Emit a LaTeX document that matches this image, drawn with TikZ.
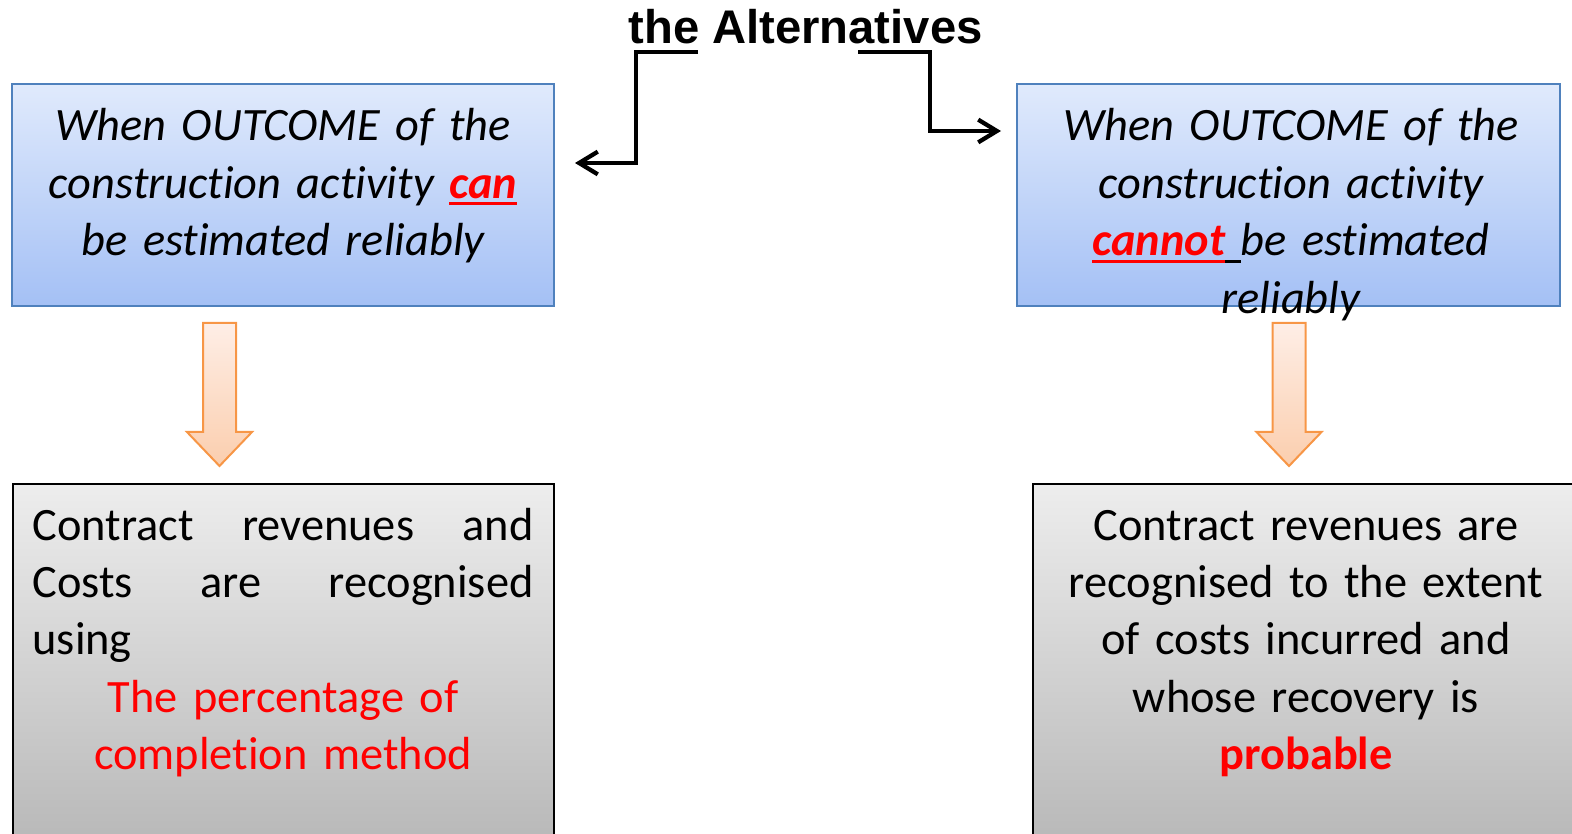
\documentclass[tikz,border=0pt]{standalone}
\usepackage{fontspec}
\setmainfont{Carlito}[Ligatures=NoCommon]
\newfontfamily\arialfont{Liberation Sans}
\usetikzlibrary{arrows.meta}

\definecolor{boxblue}{RGB}{79,129,189}
\definecolor{bluetop}{RGB}{224,234,252}
\definecolor{bluebot}{RGB}{164,192,245}
\definecolor{graytop}{RGB}{237,237,237}
\definecolor{graybot}{RGB}{184,184,184}
\definecolor{arrorange}{RGB}{247,150,70}
\definecolor{orangetop}{RGB}{254,238,230}
\definecolor{orangebot}{RGB}{251,206,174}

\newcommand\thickul[1]{\leavevmode\setbox0\hbox{#1}\rlap{\rule[-0.15em]{\wd0}{0.065em}}\box0}

\tikzset{every picture/.style={line width=0.75pt}}
\tikzset{
  bluebox/.style={draw=boxblue, line width=1.5pt, top color=bluetop, bottom color=bluebot, inner sep=0pt, minimum width=406.5pt, minimum height=166.5pt},
  graybox/.style={draw=black, line width=1.5pt, top color=graytop, bottom color=graybot, inner sep=0pt, minimum width=405.75pt, minimum height=270pt},
  boxtext/.style={anchor=base, inner sep=0pt, align=center, font=\fontsize{34.8}{43.1}\selectfont},
  downarrow/.style={draw=arrorange, line width=1.5pt, top color=orangetop, bottom color=orangebot},
  elbow/.style={line width=3.2pt, -{Straight Barb[length=14pt,width=17pt]}},
}

\begin{document}
\begin{tikzpicture}[x=0.75pt,y=0.75pt,yscale=-1,xscale=1]
    \useasboundingbox (0,0) rectangle (1572,834);
    \clip (0,0) rectangle (1572,834);

    %Shape: Rectangle
    \node[bluebox] (canbox) at (283,195) {};
    %Shape: Rectangle
    \node[bluebox, minimum width=407.25pt] (cannotbox) at (1288.5,195) {};
    %Shape: Rectangle
    \node[graybox] (pocbox) at (283,664) {};
    %Shape: Rectangle
    \node[graybox] (recbox) at (1303.5,664) {};

    % Text Node
    \node[anchor=base, inner sep=0pt, font=\arialfont\bfseries\fontsize{35.4}{42}\selectfont] (title) at (805.5,44) {the Alternatives};

    %Straight Lines
    \coordinate (altL) at (698,52);
    \coordinate (tipL) at (575,163);
    \draw[elbow] (altL) -- (636,52) |- (tipL);
    %Straight Lines
    \coordinate (altR) at (858,52);
    \coordinate (tipR) at (1001,131);
    \draw[elbow] (altR) -- (930,52) |- (tipR);

    %Shape: Down Arrow
    \coordinate (arrL) at (219.5,323);
    \draw[downarrow] (arrL) -- ++(16.5,0) -- ++(0,109) -- ++(16,0) -- ++(-32.5,34) -- ++(-32.5,-34) -- ++(16,0) -- ++(0,-109) -- cycle;
    %Shape: Down Arrow
    \coordinate (arrR) at (1289,323);
    \draw[downarrow] (arrR) -- ++(16.5,0) -- ++(0,109) -- ++(16,0) -- ++(-32.5,34) -- ++(-32.5,-34) -- ++(16,0) -- ++(0,-109) -- cycle;

    % Text Node
    \node[boxtext, text width=400pt] (cantxt) at (283,141) {\itshape When OUTCOME of the\\construction activity {\color{red}\thickul{\textbf{can}}}\\be estimated reliably};
    % Text Node
    \node[boxtext, text width=400pt] (cannottxt) at (1291,141) {\itshape When OUTCOME of the\\construction activity\\{\color{red}\thickul{\textbf{cannot}}}\thickul{\ }be estimated\\reliably};
    % Text Node
    \node[boxtext, text width=375.75pt] (poctxt) at (283,540) {\makebox[\linewidth][l]{Contract\hfill revenues\hfill and}\\\makebox[\linewidth][l]{Costs\hfill are\hfill recognised}\\\makebox[\linewidth][l]{using}\\{\color{red}The percentage of}\\{\color{red}completion method}};
    % Text Node
    \node[boxtext, text width=400pt] (rectxt) at (1306,540) {Contract revenues are\\recognised to the extent\\of costs incurred and\\whose recovery is\\{\color{red}\bfseries probable}};
\end{tikzpicture}
\end{document}
